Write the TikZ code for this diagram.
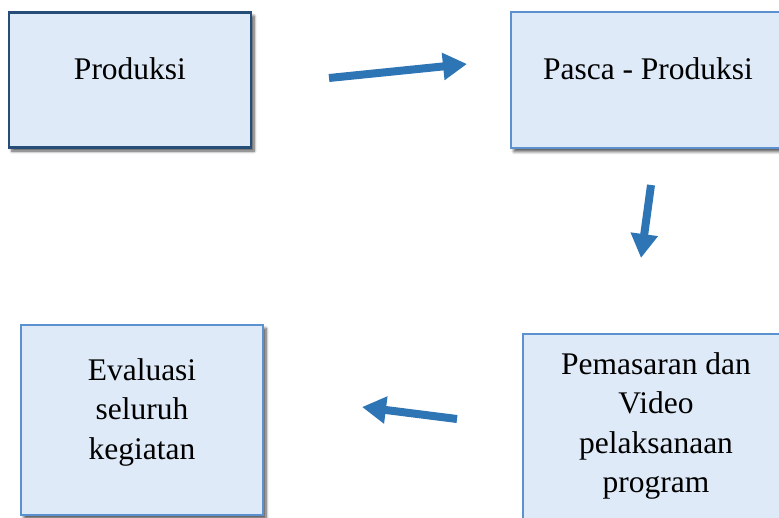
\documentclass[tikz,border=0pt]{standalone}
\usepackage{fontspec}
\setmainfont{Liberation Serif}
\newfontfamily\boxfont{Liberation Serif}
\usepackage{xcolor}
\usepackage{tikz}
\definecolor{boxfill}{RGB}{222,234,247}
\definecolor{darkline}{RGB}{38,76,120}
\definecolor{lightline}{RGB}{91,145,206}
\definecolor{arrowblue}{RGB}{46,117,182}
\usetikzlibrary{shadows.blur,arrows.meta,positioning}

\begin{document}
\begin{tikzpicture}[x=1pt,y=-1pt,
    box/.style={draw=lightline, line width=1.5pt, fill=boxfill, inner sep=0pt,
        blur shadow={shadow xshift=3pt, shadow yshift=-3.5pt, shadow blur radius=3pt, shadow blur steps=6, shadow opacity=70}},
    txt/.style={font=\boxfont\fontsize{31.5}{39.5}\selectfont, align=center, inner sep=0pt},
    flow/.style={arrowblue, line width=8pt, -{Triangle[length=24pt,width=26pt]}}]
    \useasboundingbox (0,0) rectangle (779,517);
    \clip (0,0) rectangle (779,517);
    % Boxes
    \node[box, draw=darkline, line width=2.5pt, minimum width=242pt, minimum height=135pt] (produksi) at (130,80) {};
    \node[box, minimum width=274pt, minimum height=136pt] (pasca) at (648,80) {};
    \node[box, minimum width=242pt, minimum height=190pt] (evaluasi) at (142,420) {};
    \node[box, minimum width=266pt, minimum height=206pt] (pemasaran) at (656,437) {};
    % Texts
    \node[txt] (produksiText) at (130,68.5) {Produksi};
    \node[txt] (pascaText) at (648,68.5) {Pasca - Produksi};
    \node[txt] (evaluasiText) at (142,412) {Evaluasi\\seluruh\\kegiatan};
    \node[txt] (pemasaranText) at (656,426) {Pemasaran dan\\Video\\pelaksanaan\\program};
    % Arrows
    \coordinate (a1s) at (329,78);
    \coordinate (a1e) at (467,64);
    \coordinate (a2s) at (651,185);
    \coordinate (a2e) at (641,258);
    \coordinate (a3s) at (457,419);
    \coordinate (a3e) at (362,407);
    \draw[flow] (a1s) -- (a1e);
    \draw[flow] (a2s) -- (a2e);
    \draw[flow] (a3s) -- (a3e);
\end{tikzpicture}
\end{document}
